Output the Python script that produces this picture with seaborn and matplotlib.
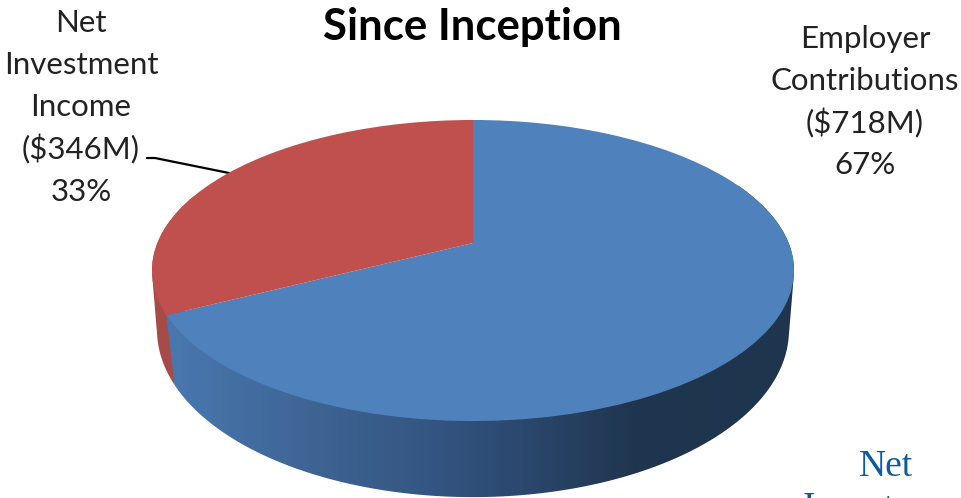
import numpy as np
import matplotlib
matplotlib.use('Agg')
import matplotlib.pyplot as plt
from matplotlib.patches import Polygon
from matplotlib.transforms import Transform
import seaborn as sns

# Valeurs du graphique
sources = ['Employer Contributions', 'Net Investment Income']
amounts = [718, 346]
colors = ['#4F81BD', '#C0504D']
label_employer = ['Employer', 'Contributions', '($718M)', '67%']
label_income = ['Net', 'Investment', 'Income', '($346M)', '33%']
title = 'Since Inception'

sns.set_theme(style='white')
plt.rcParams['font.family'] = ['Lato', 'DejaVu Sans']

# Perspective des disques : cercle unité -> pixels (tilt, cy, a, b)
TOP = (0.1827, 243, 145.5, 315.6)
BOTTOM = (0.15, 305, 163.3, 312.4)


def project(x, y, disc):
    tilt, cy, a, b = disc
    w = 1 + tilt * y
    return 473 + b * x / w, cy - a * y / w


class DiscTransform(Transform):
    input_dims = 2
    output_dims = 2

    def transform_non_affine(self, values):
        px, py = project(values[:, 0], values[:, 1], TOP)
        return np.column_stack([px, py])


def rim(theta, disc):
    t = np.radians(theta)
    return project(np.cos(t), np.sin(t), disc)


def hull(points):
    # Enveloppe convexe (monotone chain)
    pts = sorted(set(points))

    def half(seq):
        out = []
        for p in seq:
            while len(out) > 1 and ((out[-1][0] - out[-2][0]) * (p[1] - out[-2][1])
                                    - (out[-1][1] - out[-2][1]) * (p[0] - out[-2][0])) <= 0:
                out.pop()
            out.append(p)
        return out[:-1]

    return half(pts) + half(pts[::-1])


fig, ax = plt.subplots(figsize=(9.61, 4.98), dpi=100)
fig.subplots_adjust(0, 0, 1, 1)

wedges, _ = ax.pie(amounts, colors=colors, startangle=90, counterclock=False,
                   wedgeprops={'linewidth': 0})

for w in wedges:
    w.set_transform(DiscTransform() + ax.transData)
    w.set_zorder(3)

# Paroi latérale : dégradé horizontal découpé sur le bord du disque
side_blue = sns.blend_palette(['#4A7AB2', '#3E6494', '#30507A', '#203650', '#1F344D'], as_cmap=True)
side_red = sns.blend_palette(['#A84C4A', '#A34745'], as_cmap=True)
split = wedges[0].theta1


def draw_side(start, stop, cmap, z):
    theta = np.linspace(start, stop, 300)
    tx, ty = rim(theta, TOP)
    bx, by = rim(theta, BOTTOM)
    outline = hull(list(zip(tx, ty)) + list(zip(bx, by)))
    patch = Polygon(outline, transform=ax.transData)
    im = ax.imshow(np.linspace(0, 1, 128)[None, :], cmap=cmap, extent=(152, 794, 498, 0),
                   aspect='auto', zorder=z, interpolation='nearest')
    im.set_clip_path(patch)


draw_side(-200, split, side_red, 1)
draw_side(split, 25, side_blue, 2)

ax.set_aspect('auto')
ax.set_xlim(0, 961)
ax.set_ylim(498, 0)
ax.axis('off')

# Textes
ax.text(472, 27, title, ha='center', va='center', fontsize=31.5, fontweight='bold', color='black')
for i, line in enumerate(label_income):
    ax.text(81, 23 + i * 42.2, line, ha='center', va='center', fontsize=22.5, color='#222222')
for i, line in enumerate(label_employer):
    ax.text(865, 39 + i * 42, line, ha='center', va='center', fontsize=22.5, color='#222222')
ax.plot([147, 155, 229], [158, 158, 173], color='black', lw=1.6, zorder=1)

ax.text(886, 467, 'Net', ha='center', va='center', fontsize=27, color='#0F5A9E', family='Liberation Serif')
ax.text(886, 509, 'Investment', ha='center', va='center', fontsize=27, color='#0F5A9E', family='Liberation Serif')

plt.savefig('out.png', dpi=100)
plt.close()
